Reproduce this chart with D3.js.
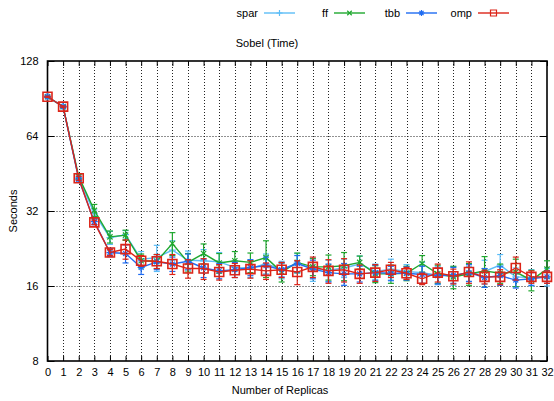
<!DOCTYPE html>
<html>
<head>
<meta charset="utf-8">
<script src="https://cdn.jsdelivr.net/npm/d3@7"></script>
<style>
  html, body { margin: 0; padding: 0; background: #fff; }
  svg { display: block; font-family: "Liberation Sans", Arial, sans-serif; }
</style>
</head>
<body>
<svg id="chart" width="554" height="401"></svg>
<script>
// Replica counts on the x axis
const replicas = d3.range(0, 33);

// Mean execution time (seconds) per replica count, with error half-widths
const spar = [92, 84, 43.5, 31.3, 25.0, 25.7, 20.5, 20.8, 22.3, 20.3, 20.2, 20.0, 19.0, 18.8, 19.7, 18.6, 19.8, 18.7, 18.5, 18.9, 19.6, 18.3, 18.7, 18.3, 18.1, 17.7, 17.6, 17.8, 18.3, 19.4, 17.4, 17.3, 17.4];
const sparErr = [0.5, 0.6, 1.0, 1.0, 1.5, 1.0, 1.5, 2.5, 2.0, 1.8, 2.2, 1.8, 1.2, 1.5, 1.8, 1.5, 1.8, 2.0, 1.8, 1.6, 1.5, 1.3, 1.8, 1.2, 1.8, 1.5, 1.5, 1.4, 2.0, 2.0, 1.5, 1.3, 1.4];

const ff = [92, 84, 44.0, 32.2, 25.2, 25.6, 20.2, 20.1, 23.7, 19.9, 21.6, 19.8, 20.2, 19.9, 20.8, 18.2, 19.9, 19.1, 19.1, 19.3, 19.9, 17.9, 17.9, 18.0, 19.7, 17.9, 17.4, 17.9, 18.4, 18.0, 18.2, 16.9, 18.7];
const ffErr = [0.5, 0.6, 1.0, 1.8, 1.4, 1.2, 1.3, 1.3, 2.5, 1.7, 2.0, 1.8, 1.8, 1.8, 3.5, 1.6, 1.8, 1.5, 2.2, 2.5, 1.2, 1.4, 1.5, 1.2, 1.5, 1.5, 1.8, 1.8, 2.6, 1.6, 2.3, 1.6, 1.5];

const tbb = [92, 84, 43.0, 29.0, 21.8, 21.6, 19.0, 20.0, 19.6, 20.1, 18.9, 18.4, 18.6, 19.0, 19.3, 18.6, 19.7, 18.7, 18.1, 17.9, 17.9, 18.1, 18.0, 18.0, 17.8, 17.6, 17.7, 18.1, 17.3, 17.6, 16.9, 17.1, 17.4];
const tbbErr = [0.4, 0.5, 0.8, 0.8, 0.8, 1.8, 1.2, 1.4, 1.3, 1.4, 1.6, 1.3, 1.3, 1.4, 1.6, 1.2, 1.5, 1.6, 1.5, 1.8, 1.3, 1.3, 1.2, 1.1, 1.4, 1.3, 1.3, 1.4, 1.5, 1.5, 1.2, 1.0, 1.0];

const omp = [92, 84, 43.3, 28.8, 21.8, 22.5, 20.2, 20.1, 19.6, 18.8, 18.8, 18.2, 18.5, 18.7, 18.4, 18.6, 18.2, 19.1, 18.4, 18.6, 17.9, 18.1, 18.6, 18.0, 17.1, 18.1, 17.5, 18.2, 17.4, 17.4, 18.9, 17.4, 17.4];
const ompErr = [0.5, 0.5, 0.8, 0.6, 0.6, 2.0, 1.0, 1.3, 1.8, 1.6, 1.8, 1.3, 1.2, 1.5, 1.4, 1.3, 2.0, 1.8, 2.0, 2.0, 1.5, 1.4, 1.3, 1.0, 0.9, 1.5, 1.2, 1.8, 1.1, 1.2, 2.0, 1.0, 1.0];

// Y axis tick values (log base 2)
const yTicks = [8, 16, 32, 64, 128];

const seriesNames = ["spar", "ff", "tbb", "omp"];
const seriesColors = ["#5cbdf7", "#1fa82f", "#1f6cf2", "#dc2418"];
const seriesMarkers = ["plus", "cross", "star", "square"];
const seriesValues = [spar, ff, tbb, omp];
const seriesErrors = [sparErr, ffErr, tbbErr, ompErr];

const series = seriesNames.map((name, i) => ({
  name,
  color: seriesColors[i],
  marker: seriesMarkers[i],
  points: replicas.map((r, j) => ({ x: r, y: seriesValues[i][j], e: seriesErrors[i][j] }))
}));

const svg = d3.select("#chart");
const plotLeft = 47.5, plotRight = 547, plotTop = 61, plotBottom = 361;

const x = d3.scaleLinear().domain([0, 32]).range([plotLeft, plotRight]);
const y = d3.scaleLog().base(2).domain([8, 128]).range([plotBottom, plotTop]);

// Dotted grid
const grid = svg.append("g").attr("stroke", "#222").attr("stroke-width", 1)
  .attr("stroke-dasharray", "1,2");
grid.selectAll("line.v").data(replicas.slice(1, -1)).join("line")
  .attr("x1", d => Math.round(x(d)) + 0.5).attr("x2", d => Math.round(x(d)) + 0.5)
  .attr("y1", plotTop).attr("y2", plotBottom);
grid.selectAll("line.h").data(yTicks.slice(1, -1)).join("line")
  .attr("x1", plotLeft).attr("x2", plotRight)
  .attr("y1", d => Math.round(y(d)) + 0.5).attr("y2", d => Math.round(y(d)) + 0.5);

// Axes with inward ticks
const fontSize = 11;
svg.append("g").attr("transform", `translate(0,${plotBottom})`)
  .call(d3.axisBottom(x).tickValues(replicas).tickFormat(d3.format("d"))
    .tickSizeInner(-5).tickSizeOuter(0).tickPadding(7));
svg.append("g").attr("transform", `translate(0,${plotTop})`)
  .call(d3.axisTop(x).tickValues(replicas).tickFormat("")
    .tickSizeInner(-5).tickSizeOuter(0));
svg.append("g").attr("transform", `translate(${plotLeft},0)`)
  .call(d3.axisLeft(y).tickValues(yTicks).tickFormat(d3.format("d"))
    .tickSizeInner(-7).tickSizeOuter(0).tickPadding(9));
svg.append("g").attr("transform", `translate(${plotRight},0)`)
  .call(d3.axisRight(y).tickValues(yTicks).tickFormat("")
    .tickSizeInner(-7).tickSizeOuter(0));
svg.selectAll(".domain").remove();
svg.selectAll(".tick line").attr("stroke", "#000").attr("stroke-width", 1);
svg.selectAll(".tick text").attr("font-size", fontSize).attr("fill", "#000")
  .attr("font-family", "'Liberation Sans', Arial, sans-serif");

// Plot frame
svg.append("rect").attr("x", plotLeft).attr("y", plotTop)
  .attr("width", plotRight - plotLeft).attr("height", plotBottom - plotTop)
  .attr("fill", "none").attr("stroke", "#000").attr("stroke-width", 1.6);

function markerPath(type, s) {
  switch (type) {
    case "plus": return `M${-s},0H${s}M0,${-s}V${s}`;
    case "cross": return `M${-s * 0.75},${-s * 0.75}L${s * 0.75},${s * 0.75}M${-s * 0.75},${s * 0.75}L${s * 0.75},${-s * 0.75}`;
    case "star": return `M${-s},0H${s}M0,${-s}V${s}M${-s * 0.7},${-s * 0.7}L${s * 0.7},${s * 0.7}M${-s * 0.7},${s * 0.7}L${s * 0.7},${-s * 0.7}`;
    default: return `M${-s},${-s}H${s}V${s}H${-s}Z`;
  }
}

const line = d3.line().x(d => x(d.x)).y(d => y(d.y));

series.forEach(s => {
  const g = svg.append("g").attr("stroke", s.color).attr("fill", "none");
  // error bars
  const eb = g.selectAll("g.err").data(s.points).join("g").attr("stroke-width", 1.2);
  eb.append("line")
    .attr("x1", d => x(d.x)).attr("x2", d => x(d.x))
    .attr("y1", d => y(d.y - d.e)).attr("y2", d => y(d.y + d.e));
  eb.append("line")
    .attr("x1", d => x(d.x) - 3).attr("x2", d => x(d.x) + 3)
    .attr("y1", d => y(d.y - d.e)).attr("y2", d => y(d.y - d.e));
  eb.append("line")
    .attr("x1", d => x(d.x) - 3).attr("x2", d => x(d.x) + 3)
    .attr("y1", d => y(d.y + d.e)).attr("y2", d => y(d.y + d.e));
  // connecting line
  g.append("path").datum(s.points).attr("d", line).attr("stroke-width", 1.4);
  // markers
  const size = s.marker === "square" ? 4.5 : 3.5;
  g.selectAll("path.m").data(s.points).join("path")
    .attr("transform", d => `translate(${x(d.x)},${y(d.y)})`)
    .attr("d", markerPath(s.marker, size))
    .attr("stroke-width", s.marker === "square" ? 1.6 : 1.2);
});

// Legend
const legendTextEnd = [258, 328, 400, 472];
const legend = svg.append("g");
series.forEach((s, i) => {
  const tx = legendTextEnd[i];
  legend.append("text").attr("x", tx).attr("y", 17).attr("text-anchor", "end")
    .attr("font-size", fontSize).attr("fill", "#000").text(s.name);
  legend.append("line").attr("x1", tx + 6).attr("x2", tx + 37).attr("y1", 13).attr("y2", 13)
    .attr("stroke", s.color).attr("stroke-width", 1.4);
  legend.append("path").attr("transform", `translate(${tx + 21.5},13)`)
    .attr("d", markerPath(s.marker, 3))
    .attr("stroke", s.color).attr("fill", "none").attr("stroke-width", 1.2);
});

// Titles
svg.append("text").attr("x", 267).attr("y", 47).attr("text-anchor", "middle")
  .attr("font-size", fontSize).text("Sobel (Time)");
svg.append("text").attr("x", 280).attr("y", 394).attr("text-anchor", "middle")
  .attr("font-size", fontSize).text("Number of Replicas");
svg.append("text").attr("transform", "translate(17,211) rotate(-90)")
  .attr("text-anchor", "middle").attr("font-size", fontSize).text("Seconds");
</script>
</body>
</html>
